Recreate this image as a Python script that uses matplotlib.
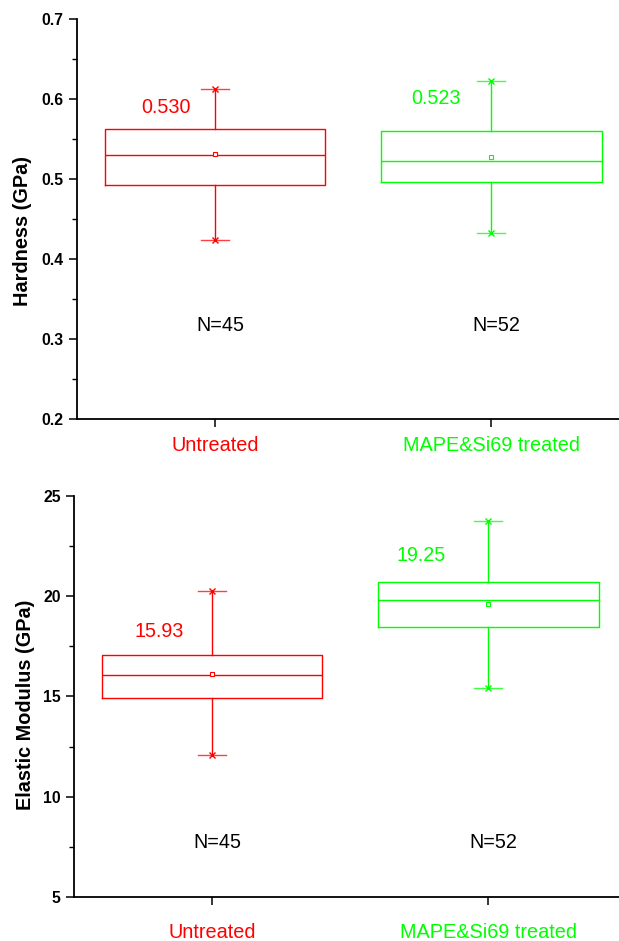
import matplotlib
matplotlib.use("Agg")
import matplotlib.pyplot as plt
from matplotlib.ticker import MultipleLocator

plt.rcParams['font.family'] = ['Liberation Sans', 'DejaVu Sans']

groups = ['Untreated', 'MAPE&Si69 treated']
colors = ['#ff0000', '#00ff00']
counts = ['N=45', 'N=52']

# hardness (GPa)
hard_q1 = [0.493, 0.496]
hard_med = [0.530, 0.523]
hard_q3 = [0.562, 0.560]
hard_mean = [0.531, 0.528]
hard_lo = [0.424, 0.432]
hard_hi = [0.612, 0.623]
hard_labels = ['0.530', '0.523']

# elastic modulus (GPa)
mod_q1 = [14.93, 18.47]
mod_med = [16.06, 19.81]
mod_q3 = [17.07, 20.73]
mod_mean = [16.10, 19.63]
mod_lo = [12.10, 15.42]
mod_hi = [20.26, 23.77]
mod_labels = ['15.93', '19.25']


def draw_panel(ax, q1, med, q3, mean, lo, hi, labels, ylim, major, minor,
               ylabel, lab_pos, n_y, label_xy, xpad):
    pos = [1, 2]
    stats = []
    for i in range(2):
        stats.append(dict(q1=q1[i], med=med[i], q3=q3[i], mean=mean[i],
                          whislo=lo[i], whishi=hi[i], fliers=[]))
    bp = ax.bxp(stats, positions=pos, widths=0.8, capwidths=0.1,
                showmeans=True, patch_artist=False)
    for i, c in enumerate(colors):
        bp['boxes'][i].set(color=c, linewidth=1.0)
        bp['medians'][i].set(color=c, linewidth=1.0)
        for w in bp['whiskers'][2 * i:2 * i + 2]:
            w.set(color=c, linewidth=1.0)
        for cap in bp['caps'][2 * i:2 * i + 2]:
            cap.set(color=c, linewidth=1.0, alpha=0.75)
        bp['means'][i].set(marker='s', markerfacecolor='white',
                           markeredgecolor=c, markersize=3.2,
                           markeredgewidth=0.8)
        ax.plot([pos[i], pos[i]], [lo[i], hi[i]], linestyle='none',
                marker='x', color=c, markersize=4.5, markeredgewidth=1.0)
        ax.text(label_xy[i][0], label_xy[i][1], labels[i], color=c,
                fontsize=14.2, ha='center', va='center')
        ax.text(pos[i] + 0.018, n_y, counts[i], color='black',
                fontsize=14.2, ha='center', va='center')

    ax.set_xlim(0.5, 2.5)
    ax.set_ylim(*ylim)
    ax.set_xticks(pos)
    ax.set_xticklabels(groups, fontsize=14.3)
    for t, c in zip(ax.get_xticklabels(), colors):
        t.set_color(c)
    ax.yaxis.set_major_locator(MultipleLocator(major))
    ax.yaxis.set_minor_locator(MultipleLocator(minor))
    ax.tick_params(axis='y', which='major', length=6, width=1.1,
                   labelsize=11.3, pad=3.5)
    ax.tick_params(axis='y', which='minor', length=3.5, width=1.0)
    ax.tick_params(axis='x', which='major', length=6, width=1.1, pad=xpad)
    for t in ax.get_yticklabels():
        t.set_fontweight('bold')
    for s in ['top', 'right']:
        ax.spines[s].set_visible(False)
    for s in ['left', 'bottom']:
        ax.spines[s].set_linewidth(1.3)
    ax.set_ylabel(ylabel, fontsize=14.3, fontweight='bold')
    ax.yaxis.set_label_coords(lab_pos[0], lab_pos[1])


fig = plt.figure(figsize=(6.19, 9.41), dpi=100)
ax1 = fig.add_axes([0.1244, 0.5547, 0.892, 0.4251])
ax2 = fig.add_axes([0.1195, 0.0468, 0.892, 0.4261])

draw_panel(ax1, hard_q1, hard_med, hard_q3, hard_mean, hard_lo, hard_hi,
           hard_labels, (0.2, 0.7), 0.1, 0.05, 'Hardness (GPa)',
           (-0.081, 0.47), 0.317, [(0.822, 0.590), (1.802, 0.601)], 6)
draw_panel(ax2, mod_q1, mod_med, mod_q3, mod_mean, mod_lo, mod_hi,
           mod_labels, (5, 25), 5, 2.5, 'Elastic Modulus (GPa)',
           (-0.071, 0.48), 7.73, [(0.808, 18.25), (1.757, 22.04)], 13)

fig.savefig('out.png', dpi=100)
